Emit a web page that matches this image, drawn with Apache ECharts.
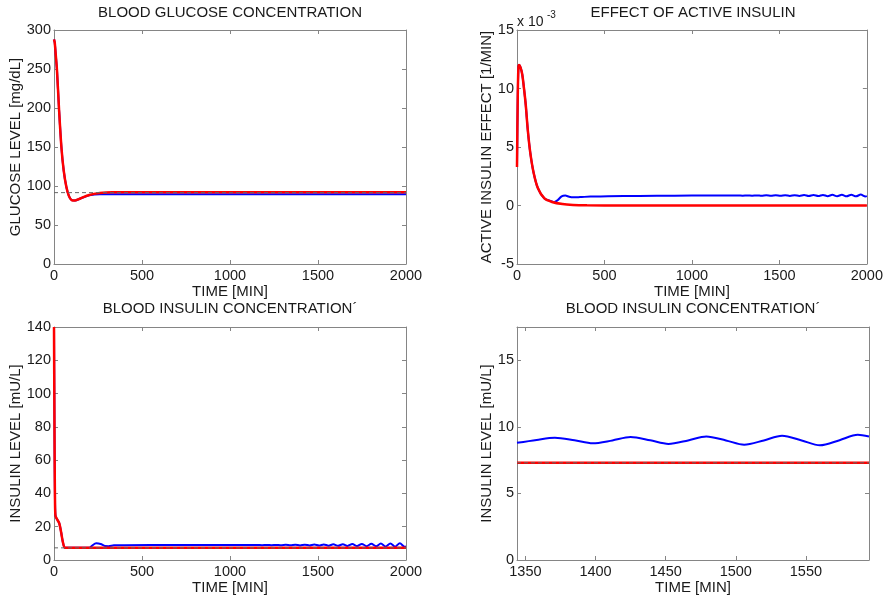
<!DOCTYPE html>
<html>
<head>
<meta charset="utf-8">
<script src="https://cdn.jsdelivr.net/npm/echarts@6/dist/echarts.min.js"></script>
<style>
  html, body { margin: 0; padding: 0; background: #fff; }
  #chart { width: 886px; height: 596px; }
</style>
</head>
<body>
<div id="chart"></div>
<script>
// --- data ---
// blood glucose [mg/dL]
var gluT     = [0, 4, 10, 17, 28, 42, 55, 70, 85, 100, 120, 150, 200, 260, 330, 400, 600, 1000, 1500, 2000];
var gluRed   = [288, 284, 268, 248, 201, 150, 120, 99, 87, 82, 81.5, 84, 88.5, 91, 92, 92, 92, 92, 92, 92];
var gluBlue  = [288, 284, 268, 248, 201, 150, 120, 99, 87, 82, 81.5, 84, 88, 89.5, 89.5, 89.5, 89.5, 89.5, 89.5, 89.5];
var gluRef   = 91.5;

// active insulin effect [1/min] x 1e-3
var effT     = [0, 4, 8, 12, 20, 30, 40, 50, 62, 76, 95, 119, 157, 200, 260, 320, 400, 600, 1000, 1500, 2000];
var effRed   = [3.3, 9.0, 11.8, 12.0, 11.8, 11.2, 10.0, 8.6, 6.4, 4.5, 2.8, 1.5, 0.6, 0.3, 0.12, 0.05, 0.02, 0, 0, 0, 0];
var effBlueT = [0, 4, 8, 12, 20, 30, 40, 50, 62, 76, 95, 119, 157, 200, 214, 232, 255, 276, 298, 320, 360, 420, 520, 700, 900, 1100,
                1155, 1182, 1209, 1236, 1263, 1290, 1317, 1344, 1371, 1398, 1425, 1452, 1479, 1506, 1533, 1560,
                1587, 1614, 1641, 1668, 1695, 1722, 1749, 1776, 1803, 1830, 1857, 1884, 1911, 1938, 1965, 1992, 2000];
var effBlue  = [3.3, 9.0, 11.8, 12.0, 11.8, 11.2, 10.0, 8.6, 6.4, 4.5, 2.8, 1.5, 0.6, 0.35, 0.3, 0.45, 0.78, 0.85, 0.75, 0.7, 0.72, 0.76, 0.8, 0.82, 0.84, 0.85,
                0.855, 0.845, 0.855, 0.845, 0.86, 0.84, 0.86, 0.84, 0.865, 0.835, 0.87, 0.83, 0.875, 0.825, 0.88, 0.82,
                0.885, 0.815, 0.89, 0.81, 0.895, 0.805, 0.9, 0.8, 0.91, 0.79, 0.915, 0.785, 0.92, 0.78, 0.93, 0.77, 0.8];

// blood insulin [mU/L]
var insT     = [0, 2, 4, 6, 8, 12, 20, 30, 40, 50, 62, 80, 200, 1000, 2000];
var insRed   = [140, 95, 55, 33, 27, 25.5, 24, 22, 17, 11, 7.3, 7.3, 7.3, 7.3, 7.3];
var insBlueT = [0, 2, 4, 6, 8, 12, 20, 30, 40, 50, 62, 80, 200, 215, 240, 265, 290, 310, 340, 400, 700, 1100,
                1155, 1182, 1209, 1236, 1263, 1290, 1317, 1344, 1371, 1398, 1425, 1452, 1479, 1506, 1533, 1560,
                1587, 1614, 1641, 1668, 1695, 1722, 1749, 1776, 1803, 1830, 1857, 1884, 1911, 1938, 1965, 1992, 2000];
var insBlue  = [140, 95, 55, 33, 27, 25.5, 24, 22, 17, 11, 7.3, 7.3, 7.3, 8.5, 10.0, 9.6, 8.4, 8.3, 8.8, 8.9, 8.95, 8.95,
                9.02, 8.9, 9.04, 8.88, 9.07, 8.85, 9.1, 8.82, 9.18, 8.76, 9.23, 8.72, 9.28, 8.66, 9.33, 8.62,
                9.4, 8.55, 9.48, 8.47, 9.57, 8.4, 9.66, 8.32, 9.76, 8.22, 9.87, 8.12, 9.98, 8.02, 10.1, 7.95, 8.1];
var insRef   = 7.3;

// zoomed insulin window
var zoomT    = [1344, 1358, 1371, 1385, 1398, 1412, 1425, 1439, 1452, 1466, 1479, 1493, 1506, 1520, 1533, 1547, 1560, 1574, 1587, 1595];
var zoomBlue = [8.8, 9.02, 9.18, 8.99, 8.76, 8.98, 9.23, 8.99, 8.72, 8.98, 9.28, 8.98, 8.66, 8.98, 9.33, 8.98, 8.62, 9.0, 9.4, 9.28];
var zoomRedT = [1344, 1595];
var zoomRed  = [7.3, 7.3];
var zoomXTicks = [1350, 1400, 1450, 1500, 1550];
var zoomYTicks = [0, 5, 10, 15];

var FONT = 'Liberation Sans, Arial, sans-serif';
var TXT = '#1a1a1a';
var AX = '#858585';

function pairs(xs, ys) {
  return xs.map(function (x, i) { return [x, ys[i]]; });
}
function flat(v, a, b) { return [[a, v], [b, v]]; }

// MATLAB-like boxed axes: labelled axis + mirrored one for the box
function boxAxes(dim, gi, o) {
  var base = {
    gridIndex: gi, type: 'value', min: o.min, max: o.max, interval: o.interval,
    splitLine: { show: false },
    axisLine: { onZero: false, lineStyle: { color: AX, width: 1 } },
    axisTick: { inside: true, length: 4, lineStyle: { color: AX }, customValues: o.ticks }
  };
  var main = Object.assign({}, base, {
    position: dim === 'x' ? 'bottom' : 'left',
    axisLabel: { color: TXT, fontSize: 14.5, fontFamily: FONT, margin: dim === 'x' ? 4 : 3,
      customValues: o.ticks, formatter: function (v) { return String(v); } },
    name: o.name, nameLocation: 'middle', nameGap: o.gap,
    nameTextStyle: { color: TXT, fontSize: 15, fontFamily: FONT }
  });
  var mirror = Object.assign({}, base, {
    position: dim === 'x' ? 'top' : 'right',
    axisLabel: { show: false }
  });
  return [main, mirror];
}

function line(k, data, color, width, z) {
  return {
    type: 'line', xAxisIndex: 2 * k, yAxisIndex: 2 * k, data: data,
    symbol: 'none', smooth: 0.3, z: z, silent: true,
    lineStyle: { color: color, width: width }
  };
}
function refLine(k, data) {
  return {
    type: 'line', xAxisIndex: 2 * k, yAxisIndex: 2 * k, data: data,
    symbol: 'none', z: 5, silent: true,
    lineStyle: { color: '#666', width: 1, type: [4, 3] }
  };
}

var grids = [
  { left: 54, top: 30, width: 352, height: 234 },
  { left: 517, top: 30, width: 352, height: 234 },
  { left: 54, top: 327, width: 352, height: 233 },
  { left: 517, top: 327, width: 352, height: 233 }
];

var xAxes = [].concat(
  boxAxes('x', 0, { min: 0, max: 2000, interval: 500, name: 'TIME [MIN]', gap: 18 }),
  boxAxes('x', 1, { min: 0, max: 2000, interval: 500, name: 'TIME [MIN]', gap: 18 }),
  boxAxes('x', 2, { min: 0, max: 2000, interval: 500, name: 'TIME [MIN]', gap: 18 }),
  boxAxes('x', 3, { min: 1344, max: 1595, ticks: zoomXTicks, name: 'TIME [MIN]', gap: 18 })
);
var yAxes = [].concat(
  boxAxes('y', 0, { min: 0, max: 300, interval: 50, name: 'GLUCOSE LEVEL [mg/dL]', gap: 30 }),
  boxAxes('y', 1, { min: -5, max: 15, interval: 5, name: 'ACTIVE INSULIN EFFECT [1/MIN]', gap: 22 }),
  boxAxes('y', 2, { min: 0, max: 140, interval: 20, name: 'INSULIN LEVEL [mU/L]', gap: 30 }),
  boxAxes('y', 3, { min: 0, max: 17.5, ticks: zoomYTicks, name: 'INSULIN LEVEL [mU/L]', gap: 22 })
);

function titleText(txt, x, y) {
  return { type: 'text', x: x, y: y, silent: true,
    style: { text: txt, fill: TXT, font: '15px ' + FONT, align: 'center', verticalAlign: 'middle' } };
}

var chart = echarts.init(document.getElementById('chart'), null, { renderer: 'canvas' });
chart.setOption({
  animation: false,
  backgroundColor: '#fff',
  grid: grids,
  xAxis: xAxes,
  yAxis: yAxes,
  graphic: [
    titleText('BLOOD GLUCOSE CONCENTRATION', 230, 13),
    titleText('EFFECT OF ACTIVE INSULIN', 693, 13),
    titleText('BLOOD INSULIN CONCENTRATION\u00b4', 230, 309),
    titleText('BLOOD INSULIN CONCENTRATION\u00b4', 693, 309),
    { type: 'text', x: 517, y: 22, silent: true,
      style: { text: 'x 10', fill: TXT, font: '14px ' + FONT, align: 'left', verticalAlign: 'middle' } },
    { type: 'text', x: 547, y: 15, silent: true,
      style: { text: '-3', fill: TXT, font: '10px ' + FONT, align: 'left', verticalAlign: 'middle' } }
  ],
  series: [
    line(0, pairs(gluT, gluBlue), '#0000ff', 2, 2),
    line(0, pairs(gluT, gluRed), '#ff0000', 2.5, 3),
    refLine(0, flat(gluRef, 0, 2000)),
    line(1, pairs(effBlueT, effBlue), '#0000ff', 2, 2),
    line(1, pairs(effT, effRed), '#ff0000', 2.5, 3),
    line(2, pairs(insBlueT, insBlue), '#0000ff', 2, 2),
    line(2, pairs(insT, insRed), '#ff0000', 2.5, 3),
    refLine(2, flat(insRef, 0, 2000)),
    line(3, pairs(zoomT, zoomBlue), '#0000ff', 2, 2),
    line(3, pairs(zoomRedT, zoomRed), '#ff0000', 2.5, 3),
    refLine(3, flat(insRef, 1344, 1595))
  ]
});
</script>
</body>
</html>
